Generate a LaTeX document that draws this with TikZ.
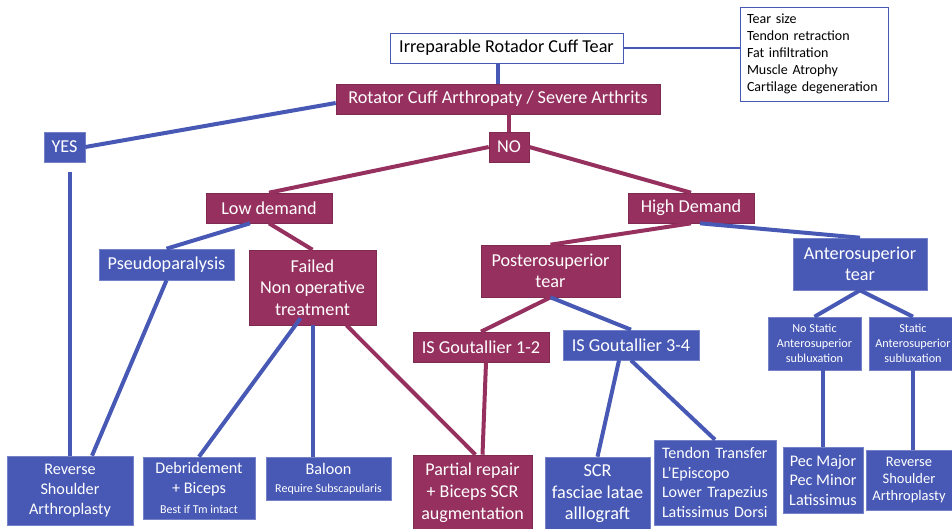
\documentclass[tikz,border=0pt]{standalone}
\usepackage{fontspec}
\setmainfont{Carlito}
\usepackage{tikz}

\definecolor{cuffred}{RGB}{150,49,95}
\definecolor{cuffblue}{RGB}{72,89,181}
\newcommand{\smallline}[1]{{\fontsize{12}{14}\selectfont #1}}

\tikzset{
    redbox/.style={fill=cuffred, draw=cuffred!85!black, line width=0.6pt, text=white,
        align=center, inner sep=0pt, font=\fontsize{18.2}{21.5}\selectfont},
    bluebox/.style={fill=cuffblue, draw=cuffblue!75!white, line width=0.6pt, text=white,
        align=center, inner sep=0pt, font=\fontsize{18.2}{21.5}\selectfont},
    boxsize/.style 2 args={minimum width=#1pt, minimum height=#2pt},
    redlink/.style={draw=cuffred, line width=4pt},
    bluelink/.style={draw=cuffblue, line width=4pt},
}

\begin{document}
\begin{tikzpicture}[x=1pt, y=-1pt]
    \useasboundingbox (0,0) rectangle (952,528);

    % top of the tree
    \node[draw=cuffblue, line width=0.8pt, fill=white, boxsize={233}{30}, inner sep=0pt,
        font=\fontsize{18.2}{21}\selectfont] (irr) at (506.5,48) {Irreparable Rotador Cuff Tear};
    \node[draw=cuffblue, line width=0.8pt, fill=white, text width=134pt, inner xsep=7pt,
        minimum height=94pt, align=left, font=\fontsize{14}{17}\selectfont] (factors) at (814,54)
        {Tear size\\Tendon retraction\\Fat infiltration\\Muscle Atrophy\\Cartilage degeneration};
    \node[redbox, boxsize={324}{30}] (rca) at (498,99) {Rotator Cuff Arthropaty / Severe Arthrits};
    \node[bluebox, boxsize={41}{30}] (yes) at (64.5,147) {YES};
    \node[redbox, boxsize={40}{30}] (no) at (509,147) {NO};

    % demand
    \node[redbox, boxsize={126}{30}] (low) at (269,208) {Low demand};
    \node[redbox, boxsize={126}{30}] (high) at (691,208) {High Demand};
    \node[bluebox, boxsize={135}{31}] (pseudo) at (166.5,264.5) {Pseudoparalysis};
    \node[redbox, boxsize={127}{75}] (failed) at (312.5,287.5) {Failed\\Non operative\\treatment};
    \node[redbox, boxsize={139}{52}] (postero) at (550.5,271) {Posterosuperior\\tear};
    \node[bluebox, boxsize={134}{52}] (antero) at (860,264) {Anterosuperior\\tear};
    \node[redbox, boxsize={136}{30}] (is12) at (481,347) {IS Goutallier 1-2};
    \node[bluebox, boxsize={136}{30}] (is34) at (631,345) {IS Goutallier 3-4};
    \node[bluebox, boxsize={93}{53}, font=\fontsize{12.2}{15}\selectfont] (nostatic) at (814.5,343.5)
        {No Static\\Anterosuperior\\subluxation};
    \node[bluebox, boxsize={88}{53}, font=\fontsize{12.2}{15}\selectfont] (static) at (913,343.5)
        {Static\\Anterosuperior\\subluxation};

    % treatments
    \node[bluebox, boxsize={126}{69}, font=\fontsize{16.2}{20}\selectfont] (rsa1) at (70,490.5)
        {Reverse\\Shoulder\\Arthroplasty};
    \node[bluebox, boxsize={112}{62}, font=\fontsize{16.2}{20}\selectfont] (debr) at (199,488)
        {Debridement\\+ Biceps\\\smallline{Best if Tm intact}};
    \node[bluebox, boxsize={125}{43}, font=\fontsize{16.2}{18}\selectfont] (baloon) at (328.5,478.5)
        {Baloon\\\smallline{Require Subscapularis}};
    \node[redbox, boxsize={119}{76}, font=\fontsize{18}{22}\selectfont] (partial) at (472.5,493)
        {Partial repair\\+ Biceps SCR\\augmentation};
    \node[bluebox, boxsize={105}{74}, font=\fontsize{18.2}{21.5}\selectfont] (scr) at (597.5,494)
        {SCR\\fasciae latae\\alllograft};
    \node[bluebox, text width=106pt, inner xsep=8pt, minimum height=85pt, align=left,
        font=\fontsize{16}{19.7}\selectfont] (tendon) at (715,482.5)
        {Tendon Transfer\\L’Episcopo\\Lower Trapezius\\Latissimus Dorsi};
    \node[bluebox, boxsize={80}{66}, font=\fontsize{16.2}{19.5}\selectfont] (pec) at (823,480)
        {Pec Major\\Pec Minor\\Latissimus};
    \node[bluebox, boxsize={86}{60}, font=\fontsize{14.5}{17}\selectfont] (rsa2) at (909,480)
        {Reverse\\Shoulder\\Arthroplasty};

    % connectors
    \draw[cuffblue, line width=1.5pt] (irr.east) -- (irr.east -| factors.west);
    \draw[bluelink] (rca.north |- irr.south) -- (rca.north);
    \draw[bluelink] (yes.east) -- ([yshift=-4pt]rca.west);
    \draw[redlink] (no.north |- rca.south) -- (no.north);
    \draw[redlink] (no.west) -- (low.north);
    \draw[redlink] (no.east) -- (high.north);
    \draw[bluelink, shorten <=10pt] (rsa1.north |- yes.south) -- (rsa1.north);
    \draw[bluelink] ([xshift=-19pt]low.south) -- (pseudo.north);
    \draw[redlink] (low.south) -- (failed.north);
    \draw[bluelink] (pseudo.south) -- ([xshift=22pt]rsa1.north);
    \draw[bluelink] ([xshift=-12pt,yshift=7pt]failed.south) -- (debr.north);
    \draw[bluelink] (failed.south) -- (failed.south |- baloon.north);
    \draw[redlink] ([xshift=34pt]failed.south) -- ([xshift=3pt]partial.north);
    \draw[redlink] (high.south) -- (postero.north);
    \draw[bluelink] ([xshift=9pt]high.south) -- (antero.north);
    \draw[redlink] (postero.south) -- (is12.north);
    \draw[bluelink] (postero.south) -- (is34.north);
    \draw[redlink] ([xshift=5pt]is12.south) -- ([xshift=10pt]partial.north);
    \draw[bluelink] ([xshift=-12pt]is34.south) -- (scr.north);
    \draw[bluelink] (is34.south) -- (tendon.north);
    \draw[bluelink] (antero.south) -- (nostatic.north);
    \draw[bluelink] (antero.south) -- (static.north);
    \draw[bluelink] (pec.north |- nostatic.south) -- (pec.north);
    \draw[bluelink] (static.south) -- (static.south |- rsa2.north);
\end{tikzpicture}
\end{document}
